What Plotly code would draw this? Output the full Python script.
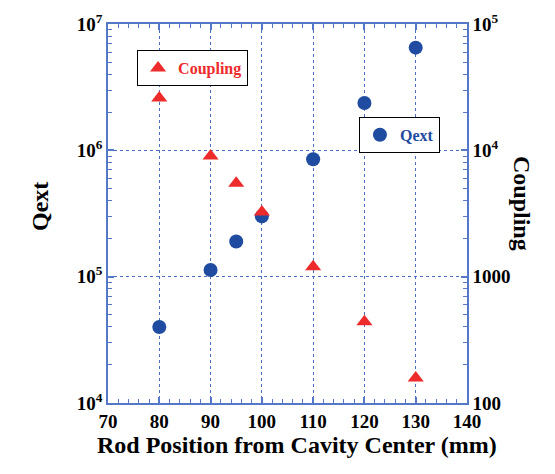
import plotly.graph_objects as go

rod_position = [80, 90, 95, 100, 110, 120, 130]
qext = [4.0e4, 1.13e5, 1.9e5, 3.0e5, 8.5e5, 2.37e6, 6.5e6]
coupling = [26000, 9000, 5500, 3250, 1200, 440, 158]

x_ticks = [70, 80, 90, 100, 110, 120, 130, 140]
left_tickvals = [1e4, 1e5, 1e6, 1e7]
left_ticktext = ["10<sup>4</sup>", "10<sup>5</sup>", "10<sup>6</sup>", "10<sup>7</sup>"]
right_tickvals = [100, 1000, 1e4, 1e5]
right_ticktext = ["100", "1000", "10<sup>4</sup>", "10<sup>5</sup>"]

blue = "#1F4BA0"
red = "#EE2B2B"
axis_blue = "#5577C8"
grid_blue = "#4A6FC0"
font_family = "Liberation Serif"

left_minor = [m * 10 ** e for e in range(4, 7) for m in range(2, 10)]
right_minor = [m * 10 ** e for e in range(2, 5) for m in range(2, 10)]

ML, MR, MT, MB = 108, 88, 24, 71
W, H = 555, 474

fig = go.Figure()
fig.add_trace(go.Scatter(
    x=rod_position, y=coupling, mode="markers", name="Coupling",
    marker=dict(symbol="triangle-up", size=14, color=red),
    yaxis="y2", legend="legend", showlegend=True))
fig.add_trace(go.Scatter(
    x=rod_position, y=qext, mode="markers", name="Qext",
    marker=dict(symbol="circle", size=14, color=blue),
    yaxis="y", legend="legend2", showlegend=True))

tickfont = dict(family=font_family, size=19, color="black", weight="bold")

fig.update_layout(
    width=W, height=H,
    margin=dict(l=ML, r=MR, t=MT, b=MB),
    paper_bgcolor="white", plot_bgcolor="white",
    font=dict(family=font_family),
    showlegend=True,
    xaxis=dict(
        range=[70, 140], tickvals=x_ticks, ticks="inside", ticklen=6, tickwidth=1.5,
        tickcolor=axis_blue, showline=True, linecolor=axis_blue, linewidth=1.5,
        mirror="ticks", showgrid=True, gridcolor=grid_blue, griddash="dot",
        gridwidth=1, zeroline=False, tickfont=tickfont, automargin=False,
        minor=dict(dtick=2, tick0=70, ticks="inside", ticklen=4, tickwidth=1.2,
                   tickcolor=axis_blue, showgrid=False),
    ),
    yaxis=dict(
        type="log", range=[4, 7], tickvals=left_tickvals, ticktext=left_ticktext,
        ticks="inside", ticklen=6, tickwidth=1.5, tickcolor=axis_blue, showline=True,
        linecolor=axis_blue, linewidth=1.5, showgrid=True, gridcolor=grid_blue,
        griddash="dot", gridwidth=1, zeroline=False, tickfont=tickfont, automargin=False,
        minor=dict(tickvals=left_minor, ticks="inside", ticklen=4, tickwidth=1.2,
                   tickcolor=axis_blue, showgrid=False),
    ),
    yaxis2=dict(
        type="log", range=[2, 5], overlaying="y", side="right",
        tickvals=right_tickvals, ticktext=right_ticktext,
        ticks="inside", ticklen=6, tickwidth=1.5, tickcolor=axis_blue, showline=True,
        linecolor=axis_blue, linewidth=1.5, showgrid=False, zeroline=False,
        tickfont=tickfont, automargin=False,
        minor=dict(tickvals=right_minor, ticks="inside", ticklen=4, tickwidth=1.2,
                   tickcolor=axis_blue, showgrid=False),
    ),
    legend=dict(
        x=0.081, y=0.931, xanchor="left", yanchor="top", visible=True,
        bgcolor="white", bordercolor="black", borderwidth=1,
        font=dict(family=font_family, size=16, color=red, weight="bold"),
    ),
    legend2=dict(
        x=0.699, y=0.755, xanchor="left", yanchor="top", visible=True,
        bgcolor="white", bordercolor="black", borderwidth=1,
        font=dict(family=font_family, size=16, color=blue, weight="bold"),
    ),
)

plot_w = W - ML - MR
plot_h = H - MT - MB

def px_to_paper(px, py):
    return (px - ML) / plot_w, (H - MB - py) / plot_h

ax, ay = px_to_paper(297, 460)
bx, by = px_to_paper(25, 207)
cx, cy = px_to_paper(537, 203)
fig.add_annotation(text="<b>Rod Position from Cavity Center (mm)</b>", x=ax, y=ay,
                   xref="paper", yref="paper", showarrow=False,
                   font=dict(family=font_family, size=24, color="black"))
fig.add_annotation(text="<b>Qext</b>", x=bx, y=by, textangle=-90,
                   xref="paper", yref="paper", showarrow=False,
                   font=dict(family=font_family, size=24, color="black"))
fig.add_annotation(text="<b>Coupling</b>", x=cx, y=cy, textangle=90,
                   xref="paper", yref="paper", showarrow=False,
                   font=dict(family=font_family, size=24, color="black"))

fig.write_html(
    "out.html",
    config={"displayModeBar": False},
    post_script="document.body.style.margin='0';document.body.style.overflow='hidden';",
)
